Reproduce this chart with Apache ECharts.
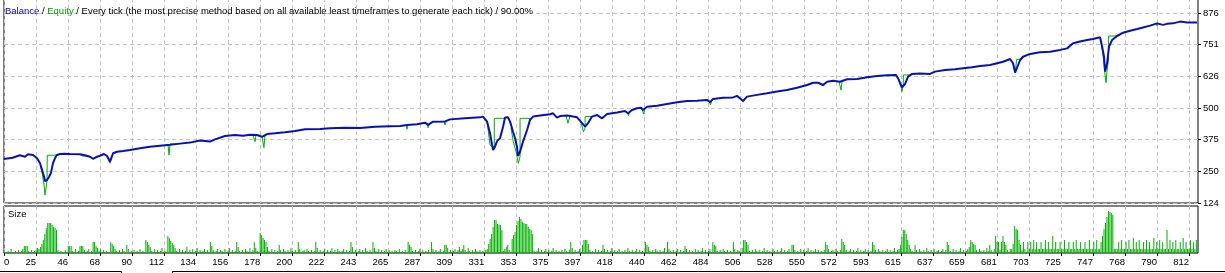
<!DOCTYPE html>
<html><head><meta charset="utf-8">
<script src="https://cdn.jsdelivr.net/npm/echarts@6/dist/echarts.min.js"></script>
<style>html,body{margin:0;padding:0;background:#fff;overflow:hidden}#c{width:1225px;height:273px}</style>
</head><body><div id="c"></div>
<script>
// ---------- DATA ----------
const TITLE_BALANCE = 'Balance';
const TITLE_EQUITY = 'Equity';
const TITLE_REST = 'Every tick (the most precise method based on all available least timeframes to generate each tick) / 90.00%';
const SIZE_LABEL = 'Size';

const X_LABELS = ['0','25','46','68','90','112','134','156','178','200','222','243','265','287','309','331','353','375','397','418','440','462','484','506','528','550','572','593','615','637','659','681','703','725','747','768','790','812'];
const Y_LABELS = [124,250,375,500,626,751,876];

// balance curve: [trade #, balance]
const balance = [[3,298],[9,303],[14,313],[17.5,307],[19.5,317],[23,314],[25.7,301],[27.7,282],[29.1,255],[30.5,228],[31.1,211],[32.5,215],[33.9,227],[35.2,243],[36.6,282],[38,302],[39.3,314],[41.4,318],[44.8,319],[48.2,318],[55,317],[58.4,313],[61.9,307],[63.9,299],[66.6,307],[68.7,311],[71.4,318],[73.5,310],[75.5,288],[77.6,321],[80.3,327],[84.4,330],[89.2,334],[96,341],[102.8,347],[109.6,351],[116.5,355],[123.3,359],[130.1,363],[136.9,371],[143.8,367],[147.2,376],[154,389],[160.8,393],[166.3,390],[171.1,394],[175.9,393],[179.3,386],[182.7,397],[188.1,400],[195,404],[201.8,409],[208.6,416],[218.9,417],[225.7,420],[235.9,422],[246.2,421],[256.4,426],[266.6,428],[273.5,429],[278.2,433],[285,436],[290.5,442],[292.6,433],[296,446],[304.2,447],[307.6,455],[317.8,459],[328.1,463],[330.1,466],[332.9,446],[334.9,400],[336.3,354],[337,334],[338.3,347],[339.7,369],[341.7,380],[343.8,426],[345.1,462],[347.2,463],[348.6,446],[350.6,406],[352,380],[353.3,347],[354,310],[355.4,327],[357.4,367],[360.2,413],[362.2,453],[364.3,466],[369,470],[375.9,475],[377.9,479],[380.6,462],[382.7,468],[387.5,470],[391.6,466],[394.3,463],[397.7,440],[399.8,426],[401.8,440],[404.5,466],[408,472],[411.4,459],[414.8,476],[421.6,482],[427,488],[429.1,479],[431.8,492],[435.3,499],[438,501],[439.3,492],[442.1,505],[448.9,509],[455.7,516],[462.6,523],[469.4,528],[476.2,529],[483,532],[485.1,523],[487.1,536],[493.9,541],[500.8,542],[503.5,548],[505.6,538],[507.6,528],[510.3,545],[517.2,552],[524,558],[530.8,565],[537.6,571],[544.5,580],[551.3,591],[555.4,600],[558.8,600],[562.2,591],[565,604],[569.1,608],[573.8,604],[578.6,614],[585.4,615],[592.3,622],[599.1,627],[605.9,630],[612,631],[613.4,618],[614.8,598],[616.1,582],[618.2,595],[620.2,624],[623,635],[628.4,637],[635.2,635],[638.7,644],[645.5,650],[652.3,653],[657.8,657],[663.9,661],[669.4,666],[676.2,670],[681,677],[685.1,683],[689.9,694],[691.9,677],[693.3,640],[694.6,644],[696.7,690],[698.7,703],[703.5,714],[710.3,721],[717.2,723],[724,730],[728.8,736],[732.9,756],[737.6,763],[742.4,769],[746.5,773],[751.3,780],[752.7,743],[754,703],[754.7,644],[756.1,677],[757.4,743],[759.5,769],[762.9,785],[767,798],[771.8,806],[776.6,813],[780.6,819],[785.4,826],[790.2,835],[794.3,829],[797,833],[801.1,835],[805.9,842],[810.7,838],[817.5,838]];

// equity excursions away from the balance line: [trade #, equity]
const equity01 = [[27.7,282],[29.1,247],[30.5,195],[31.1,156],[31.8,183],[32.5,211],[32.7,313],[38,313],[39.3,314]];
const equity02 = [[55,317],[56.4,310],[60,310],[61.9,307]];
const equity03 = [[73.5,310],[75.5,281],[76.9,313]];
const equity04 = [[115.1,355],[115.8,314],[116.5,358],[121,357]];
const equity05 = [[173.1,393],[174.5,367],[175.2,393]];
const equity06 = [[179.3,386],[180.6,343],[181.3,393]];
const equity07 = [[277.6,433],[278.2,416],[278.9,433]];
const equity08 = [[291.9,442],[292.6,422],[293.9,441]];
const equity09 = [[303.5,447],[304.2,433],[305,448]];
const equity10 = [[332.9,446],[334.9,354],[336.3,347],[337.8,347],[337.8,459],[345.1,459],[345.6,462]];
const equity11 = [[349.2,421],[350.8,367],[352.7,326],[354.2,281],[355.4,307],[355.4,459],[362.9,459]];
const equity12 = [[386.8,470],[388.1,440],[389.5,468]];
const equity13 = [[397,445],[398.6,406],[399.8,421],[399.8,466],[403.9,466]];
const equity14 = [[428.4,484],[429.4,470],[430.5,488]];
const equity15 = [[438.7,496],[439.7,476],[440.7,500]];
const equity16 = [[484.4,528],[485.4,512],[486.4,532]];
const equity17 = [[506.9,532],[507.9,523],[508.9,540]];
const equity18 = [[561.5,595],[562.5,587],[564.3,603]];
const equity19 = [[573.1,604],[574.5,571],[575.2,607]];
const equity20 = [[614.1,611],[615.4,583],[616.1,565],[617,591],[617,631],[620.9,631]];
const equity21 = [[693.3,640],[694.4,642],[694.4,693],[698,693],[698.7,703]];
const equity22 = [[751.3,780],[751.9,761],[753.3,710],[754.7,631],[755.4,600],[756.1,650],[757,690],[757,785],[760.9,785],[762.9,785]];
const equity23 = [[789.5,836],[790.2,825],[791,834]];

// lot size per trade, starting at trade SIZE_START
const SIZE_START = 3;
const sizes = [
3,1,1,2,1,4,1,1,2,1, 3,1,2,4,7,7,7,2,1,3, 1,2,3,5,4,6,9,13,19,25, 30,30,30,28,26,25,23,3,1,2,
1,1,3,1,7,7,7,2,1,4, 1,2,7,7,7,3,1,2,4,1, 2,11,11,7,5,2,4,1,3,1, 2,1,1,11,9,7,4,2,1,3,
1,4,2,1,8,4,1,2,1,3, 1,2,1,4,1,2,1,13,11,8, 6,2,1,4,1,3,1,2,5,1, 2,1,17,15,12,10,8,5,2,1,
4,1,3,1,2,6,1,3,1,4, 1,2,5,1,3,1,2,4,1,3, 1,11,7,3,1,2,4,1,3,2, 1,4,1,2,5,1,3,1,2,11,
6,2,1,3,1,4,2,1,5,1, 3,11,5,2,1,20,18,15,13,11, 6,2,1,4,1,3,1,2,8,3, 1,4,2,1,3,1,5,2,1,3,
1,11,4,1,2,3,1,4,2,1, 3,1,2,11,5,1,3,1,2,4, 1,3,1,2,5,1,3,1,4,2, 1,2,4,1,3,1,2,11,6,1,
3,1,2,4,1,3,1,5,2,1, 3,1,11,5,2,1,4,1,3,1, 2,4,1,3,1,2,1,3,2,1, 4,1,2,1,3,1,11,8,6,2,
1,3,1,2,4,1,3,1,2,1, 3,1,11,4,1,3,1,2,4,1, 2,8,8,5,1,3,1,2,4,1, 3,6,2,4,8,3,1,5,2,1,
3,1,4,2,1,3,1,2,1,3, 4,9,14,19,26,33,33,29,28,28, 23,2,4,6,8,3,1,14,18,21, 28,32,36,34,31,30,29,29,26,24,
23,19,2,1,2,5,1,3,1,2, 4,1,3,1,2,5,1,3,1,2, 1,3,1,4,2,1,3,11,5,1, 3,1,2,4,1,8,13,13,13,9,
3,1,2,1,4,1,3,1,2,8, 4,1,3,1,2,5,1,3,1,2, 4,1,2,1,3,1,5,2,1,3, 1,2,4,1,3,1,2,1,11,8,
6,2,1,3,1,4,2,1,3,1, 2,5,1,11,4,2,1,3,1,2, 4,1,3,1,2,7,4,1,3,1, 2,1,4,1,3,1,2,5,1,3,
1,2,4,1,11,8,7,2,1,3, 1,4,2,1,3,1,2,1,11,4, 1,3,2,1,5,13,13,11,8,2, 1,3,1,4,2,1,3,1,2,5,
1,3,1,2,1,4,2,1,3,1, 2,5,1,3,1,2,4,1,8,8, 3,1,2,1,4,1,3,1,2,5, 1,3,1,2,4,1,3,1,2,1,
3,11,8,4,1,2,3,1,4,2, 1,3,14,11,8,3,1,2,4,1, 3,1,2,5,1,3,1,2,4,1, 3,1,2,11,8,3,1,4,2,1,
3,1,2,4,1,3,1,2,5,1, 3,4,8,16,23,23,19,13,8,4, 2,1,8,3,1,4,2,1,3,1, 5,2,1,3,1,4,1,2,3,1,
2,4,1,3,11,8,2,1,4,1, 3,1,2,5,1,3,1,2,4,6, 13,11,9,8,3,1,4,2,1,3, 1,5,2,8,3,1,4,17,11,11,
3,11,17,11,8,3,1,4,4,9, 27,24,23,13,8,3,11,4,1,11, 4,11,4,13,4,11,4,4,11,4, 4,13,4,11,4,4,17,4,11,4,
4,11,4,4,13,4,4,11,4,4, 11,4,13,4,4,11,4,4,11,4, 4,13,4,4,11,4,13,4,4,11, 17,24,30,36,42,41,40,38,4,4,
4,11,4,13,4,4,11,4,13,4, 4,15,4,11,4,13,4,4,11,4, 13,4,11,4,4,15,4,11,4,13, 4,11,4,4,23,4,13,4,11,4,
13,4,4,11,4,15,4,11,4,4, 13,4,11,4,13
];

// ---------- CHART ----------
const FONT = 'Liberation Sans';
const FS = 9.5;
const BLUE = '#0812B4';
const GREEN = '#00B000';
const GRIDC = '#C4C4C4';
const X_MIN = 3.158, X_MAX = 818.14;
const Y_MIN = 124, Y_MAX = 935.4;
const SIZE_MAX = 47;

const xFirst = +X_LABELS[1], xLast = +X_LABELS[X_LABELS.length - 1];
const xStep = (xLast - xFirst) / (X_LABELS.length - 2);
const xTicks = [X_MIN].concat(X_LABELS.slice(1).map((_, k) => xFirst + k * xStep));
function xLabel(v) {
  let best = 0, d = Infinity;
  xTicks.forEach((t, i) => { const dd = Math.abs(t - v); if (dd < d) { d = dd; best = i; } });
  return X_LABELS[best];
}

const equitySegs = [equity01,equity02,equity03,equity04,equity05,equity06,equity07,equity08,equity09,equity10,equity11,equity12,equity13,equity14,equity15,equity16,equity17,equity18,equity19,equity20,equity21,equity22,equity23];

const dashed = { show: true, lineStyle: { color: GRIDC, width: 1, type: [4, 3] } };

const series = [];
equitySegs.forEach(seg => series.push({
  name: 'Equity', type: 'line', xAxisIndex: 0, yAxisIndex: 0, data: seg,
  symbol: 'none', lineStyle: { color: GREEN, width: 1 }, itemStyle: { color: GREEN }, z: 2, silent: true
}));
series.push({
  name: 'Balance', type: 'line', xAxisIndex: 0, yAxisIndex: 0, data: balance,
  symbol: 'none', lineStyle: { color: BLUE, width: 2 }, itemStyle: { color: BLUE }, z: 3, silent: true
});
series.push({
  name: 'Size', type: 'bar', xAxisIndex: 1, yAxisIndex: 1,
  data: sizes.map((v, i) => [SIZE_START + i, v]),
  barWidth: 1, itemStyle: { color: GREEN }, silent: true
});

const chart = echarts.init(document.getElementById('c'), null, { renderer: 'canvas', width: 1225, height: 273 });
chart.setOption({
  animation: false,
  backgroundColor: '#ffffff',
  textStyle: { fontFamily: FONT },
  title: {
    text: '{b|' + TITLE_BALANCE + '} / {g|' + TITLE_EQUITY + '} / ' + TITLE_REST,
    left: 5, top: 6, padding: 0,
    textStyle: {
      fontFamily: FONT, fontSize: FS, fontWeight: 'normal', color: '#000',
      rich: {
        b: { color: '#0000D0', fontFamily: FONT, fontSize: FS },
        g: { color: '#00A800', fontFamily: FONT, fontSize: FS }
      }
    }
  },
  grid: [
    { left: 4, top: -2, width: 1194, height: 205, show: true, borderColor: '#000', borderWidth: 1, backgroundColor: 'transparent', containLabel: false, outerBoundsMode: 'none' },
    { left: 4, top: 206, width: 1194, height: 47, show: true, borderColor: '#000', borderWidth: 1, backgroundColor: 'transparent', containLabel: false, outerBoundsMode: 'none' }
  ],
  xAxis: [
    { type: 'value', gridIndex: 0, min: X_MIN, max: X_MAX,
      axisLine: { show: false }, axisTick: { show: false, customValues: xTicks },
      axisLabel: { show: false, customValues: xTicks }, splitLine: dashed },
    { type: 'value', gridIndex: 1, min: X_MIN, max: X_MAX,
      axisLine: { show: false },
      axisTick: { show: true, length: 3, customValues: xTicks, lineStyle: { color: '#000' } },
      axisLabel: { show: true, customValues: xTicks, formatter: xLabel, align: 'right', alignMinLabel: 'left',
        margin: 4, color: '#000', fontFamily: FONT, fontSize: FS, hideOverlap: false },
      splitLine: dashed }
  ],
  yAxis: [
    { type: 'value', gridIndex: 0, position: 'right', min: Y_MIN, max: Y_MAX,
      axisLine: { show: false },
      axisTick: { show: true, length: 3, customValues: Y_LABELS, lineStyle: { color: '#000' } },
      axisLabel: { show: true, customValues: Y_LABELS, margin: 5, color: '#000', fontFamily: FONT, fontSize: FS, align: 'left' },
      splitLine: dashed },
    { type: 'value', gridIndex: 1, min: 0, max: SIZE_MAX, show: false, splitLine: { show: false } }
  ],
  graphic: [
    { type: 'text', left: 8, top: 209, style: { text: SIZE_LABEL, fill: '#000', font: FS + 'px "' + FONT + '"' } },
    { type: 'polyline', shape: { points: [[0, 271.5], [121.5, 271.5], [121.5, 274]] }, style: { stroke: '#000', lineWidth: 1, fill: null } },
    { type: 'polyline', shape: { points: [[172.5, 274], [172.5, 271.5], [1225, 271.5]] }, style: { stroke: '#000', lineWidth: 1, fill: null } }
  ],
  series: series
});
</script>
</body></html>
